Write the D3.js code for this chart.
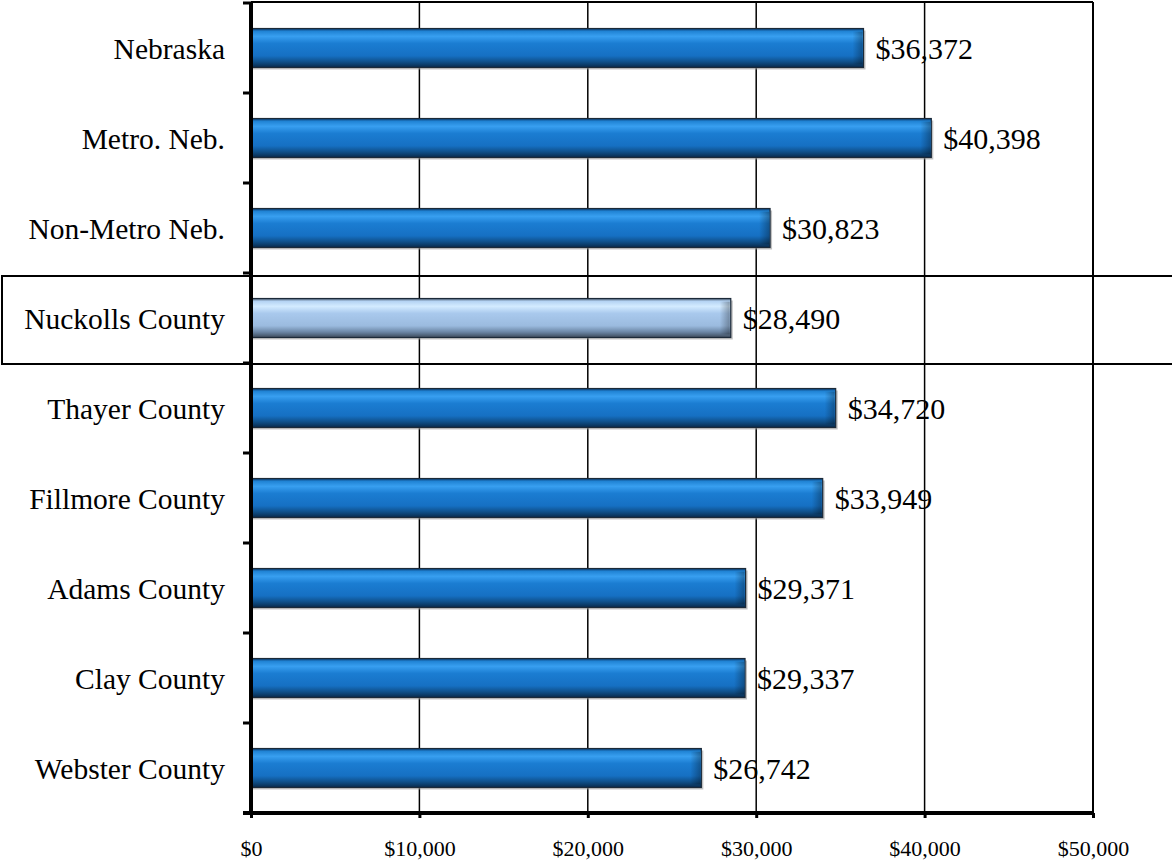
<!DOCTYPE html>
<html>
<head>
<meta charset="utf-8">
<script src="https://cdn.jsdelivr.net/npm/d3@7"></script>
<style>
  body { margin: 0; background: #fff; }
  svg { display: block; }
  text { font-family: "Liberation Serif", "Times New Roman", serif; fill: #000; }
</style>
</head>
<body>
<div id="chart"></div>
<script>
// Chart data
const categories = ['Nebraska', 'Metro. Neb.', 'Non-Metro Neb.', 'Nuckolls County', 'Thayer County',
  'Fillmore County', 'Adams County', 'Clay County', 'Webster County'];
const values = [36372, 40398, 30823, 28490, 34720, 33949, 29371, 29337, 26742];
const highlighted = 'Nuckolls County';
const xTicks = [0, 10000, 20000, 30000, 40000, 50000];

const W = 1172, H = 865;
const margin = {top: 3, right: 79, bottom: 52, left: 251};

const svg = d3.select('#chart').append('svg')
  .attr('width', W)
  .attr('height', H);

const x = d3.scaleLinear()
  .domain([0, 50000])
  .range([margin.left, W - margin.right]);

const y = d3.scaleBand()
  .domain(categories)
  .range([margin.top, H - margin.bottom])
  .paddingInner(0.567)
  .paddingOuter(0.2835);

const fmt = v => '$' + d3.format(',')(v);

// Gradients for the bevelled bars
const defs = svg.append('defs');
function addGradient(id, stops) {
  const g = defs.append('linearGradient')
    .attr('id', id)
    .attr('x1', 0).attr('y1', 0).attr('x2', 0).attr('y2', 1);
  stops.forEach(s => g.append('stop').attr('offset', s[0]).attr('stop-color', s[1]));
}
addGradient('blueGrad', [
  [0, '#0a3563'], [0.07, '#2083d4'], [0.2, '#389ff0'], [0.38, '#1b7dd2'],
  [0.7, '#1670c3'], [0.86, '#0f4f88'], [1, '#092a4b']
]);
addGradient('lightGrad', [
  [0, '#46586c'], [0.07, '#b4d3f3'], [0.2, '#d3ebff'], [0.38, '#a9c9ed'],
  [0.7, '#9bbbdf'], [0.86, '#6b86a5'], [1, '#3c4a5a']
]);
const endGrad = defs.append('linearGradient')
  .attr('id', 'endGrad')
  .attr('x1', 0).attr('y1', 0).attr('x2', 1).attr('y2', 0);
endGrad.append('stop').attr('offset', 0).attr('stop-color', '#000').attr('stop-opacity', 0);
endGrad.append('stop').attr('offset', 1).attr('stop-color', '#000').attr('stop-opacity', 0.3);

// Gridlines
svg.append('g')
  .selectAll('line')
  .data(xTicks.slice(1))
  .enter()
  .append('line')
    .attr('x1', d => x(d)).attr('x2', d => x(d))
    .attr('y1', margin.top - 1).attr('y2', H - margin.bottom)
    .attr('stroke', '#000')
    .attr('stroke-width', d => d === 50000 ? 2 : 1.5);

// Top border
svg.append('line')
  .attr('x1', x(0)).attr('x2', x(50000))
  .attr('y1', 2).attr('y2', 2)
  .attr('stroke', '#000').attr('stroke-width', 2);

// Highlight box around Nuckolls County row
const hb = y(highlighted) - y.step() * y.paddingInner() / 2;
svg.append('rect')
  .attr('x', 2)
  .attr('y', hb + 3)
  .attr('width', W + 10)
  .attr('height', y.step() - 2)
  .attr('fill', 'none')
  .attr('stroke', '#000')
  .attr('stroke-width', 2);

// Bars
const bars = svg.append('g')
  .selectAll('g')
  .data(categories)
  .enter()
  .append('g');

bars.append('rect')
  .attr('x', x(0) + 2)
  .attr('y', d => y(d) + 2)
  .attr('width', (d, i) => x(values[i]) - x(0))
  .attr('height', y.bandwidth())
  .attr('fill', '#9a9a9a')
  .attr('opacity', 0.6);

bars.append('rect')
  .attr('x', x(0))
  .attr('y', d => y(d))
  .attr('width', (d, i) => x(values[i]) - x(0))
  .attr('height', y.bandwidth())
  .attr('fill', d => d === highlighted ? 'url(#lightGrad)' : 'url(#blueGrad)')
  .attr('stroke', '#1c2a38')
  .attr('stroke-width', 1.2);

bars.append('rect')
  .attr('x', (d, i) => x(values[i]) - 11)
  .attr('y', d => y(d) + 3)
  .attr('width', 10)
  .attr('height', y.bandwidth() - 6)
  .attr('fill', 'url(#endGrad)');

// Value labels
bars.append('text')
  .attr('x', (d, i) => x(values[i]) + 12)
  .attr('y', d => y(d) + y.bandwidth() / 2 + 11)
  .attr('font-size', 30)
  .text((d, i) => fmt(values[i]));

// Category labels
svg.append('g')
  .selectAll('text')
  .data(categories)
  .enter()
  .append('text')
    .attr('x', 225)
    .attr('y', d => y(d) + y.bandwidth() / 2 + 11)
    .attr('text-anchor', 'end')
    .attr('font-size', 29.5)
    .text(d => d);

// Y axis line and ticks at band boundaries
const boundaries = d3.range(categories.length).map(i => margin.top + i * y.step());
svg.append('line')
  .attr('x1', x(0)).attr('x2', x(0))
  .attr('y1', margin.top - 1).attr('y2', H - margin.bottom + 2)
  .attr('stroke', '#000').attr('stroke-width', 4);
svg.append('g')
  .selectAll('line')
  .data(boundaries)
  .enter()
  .append('line')
    .attr('x1', x(0) - 8).attr('x2', x(0))
    .attr('y1', d => d).attr('y2', d => d)
    .attr('stroke', '#000').attr('stroke-width', 3);

// X axis
const xAxis = svg.append('g')
  .attr('transform', 'translate(0,' + (H - margin.bottom) + ')')
  .call(d3.axisBottom(x)
    .tickValues(xTicks)
    .tickSize(5)
    .tickPadding(22)
    .tickFormat(fmt));
xAxis.select('.domain')
  .attr('d', 'M' + (x(0) - 8) + ',0H' + x(50000))
  .attr('stroke', '#000')
  .attr('stroke-width', 4);
xAxis.selectAll('.tick line').attr('stroke', '#000').attr('stroke-width', 3);
xAxis.selectAll('.tick text')
  .attr('font-size', 22)
  .attr('font-family', '"Liberation Serif", "Times New Roman", serif');
</script>
</body>
</html>
